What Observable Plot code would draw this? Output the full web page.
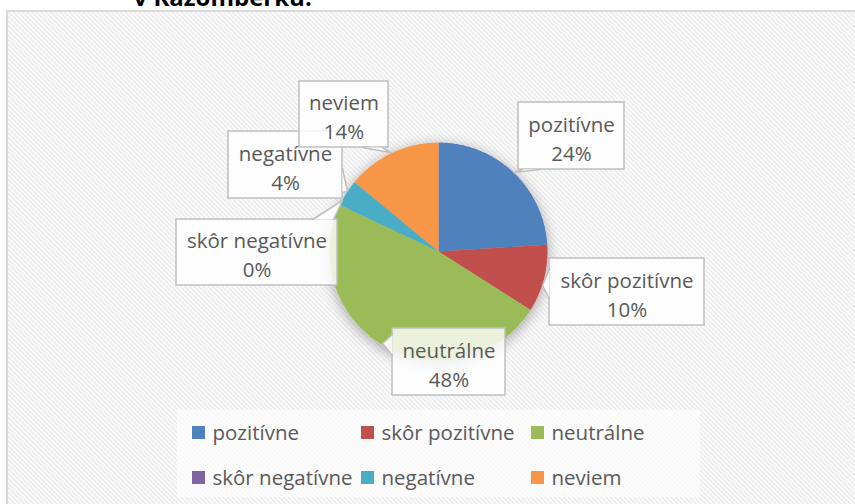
<!DOCTYPE html>
<html>
<head>
<meta charset="utf-8">
<script src="https://cdn.jsdelivr.net/npm/d3@7"></script>
<script src="https://cdn.jsdelivr.net/npm/@observablehq/plot@0.6"></script>
<style>
  html, body { margin: 0; padding: 0; background: #ffffff; }
  #chart { width: 855px; height: 504px; overflow: hidden; }
</style>
</head>
<body>
<div id="chart"></div>
<script>
// ---- data ----
const categories = ["pozitívne", "skôr pozitívne", "neutrálne", "skôr negatívne", "negatívne", "neviem"];
const values = [24, 10, 48, 0, 4, 14];
const colors = ["#4f81bd", "#c0504d", "#9bbb59", "#8064a2", "#4bacc6", "#f79646"];
const titleText = "v Kazomberku.";

// ---- layout ----
const W = 855, H = 504;
const cx = 438, cy = 251, R = 109;
// label boxes [x1, y1, x2, y2] and callout wedges [base1, base2, tip]
const labelBoxes = [
  {box: [518, 102, 624, 169], wedge: [[522, 169], [540, 169], [513, 172]]},
  {box: [549, 258, 704, 325], wedge: [[549, 268], [549, 298], [542, 285]]},
  {box: [392, 328, 505, 395], wedge: [[392, 334], [392, 355], [382, 343]]},
  {box: [176, 219, 337, 285], wedge: [[312, 219], [333, 219], [342, 200]]},
  {box: [228, 131, 342, 198], wedge: [[342, 168], [342, 192], [347, 191]]},
  {box: [299, 81, 388, 147], wedge: [[362, 147], [382, 147], [390, 152]]}
];
const legendCols = [192, 361, 531];
const legendRows = [433, 478];

// ---- pie geometry via d3.pie ----
const arcs = d3.pie().sort(null).value(d => d.value)(categories.map((c, i) => ({cat: c, value: values[i]})));
const slicePts = [];
arcs.forEach(a => {
  if (a.endAngle - a.startAngle <= 0) return;
  const n = Math.max(2, Math.ceil((a.endAngle - a.startAngle) / 0.01));
  slicePts.push({cat: a.data.cat, x: cx, y: cy});
  for (let k = 0; k <= n; k++) {
    const t = a.startAngle + (a.endAngle - a.startAngle) * k / n;
    slicePts.push({cat: a.data.cat, x: cx + R * Math.sin(t), y: cy - R * Math.cos(t)});
  }
  slicePts.push({cat: a.data.cat, x: cx, y: cy});
});

const labels = categories.map((c, i) => ({
  cat: c,
  text: c + "\n" + values[i] + "%",
  x1: labelBoxes[i].box[0], y1: labelBoxes[i].box[1], x2: labelBoxes[i].box[2], y2: labelBoxes[i].box[3]
}));
const wedgeFill = [];
const wedgeEdges = [];
labelBoxes.forEach((lb, i) => {
  const [b1, b2, t] = lb.wedge;
  [b1, t, b2].forEach(p => wedgeFill.push({i, x: p[0], y: p[1]}));
  [b1, t, b2].forEach(p => wedgeEdges.push({i, x: p[0], y: p[1]}));
});

const legendItems = categories.map((c, i) => ({
  cat: c,
  x: legendCols[i % 3],
  y: legendRows[Math.floor(i / 3)]
}));

const textColor = "#595959";
const font = "'Open Sans', Lato, sans-serif";
const fs = 20.5;

const plot = Plot.plot({
  width: W, height: H, margin: 0,
  x: {domain: [0, W], range: [0, W], axis: null},
  y: {domain: [0, H], range: [0, H], axis: null},
  color: {domain: categories, range: colors},
  style: {fontFamily: font, background: "#ffffff", overflow: "visible"},
  marks: [
    // chart area with hatched background
    Plot.rect([{x1: 7, y1: 11, x2: 870, y2: 520}], {x1: "x1", y1: "y1", x2: "x2", y2: "y2", fill: "url(#hatch)", stroke: "#d9d9d9", strokeWidth: 2}),
    // title (cut off at top, as in the reference)
    Plot.text([titleText], {x: 133, y: 5, text: d => d, textAnchor: "start", lineAnchor: "bottom", fontSize: 24, fontWeight: "bold", fill: "#000000"}),
    // pie slices
    Plot.line(slicePts, {x: "x", y: "y", z: "cat", fill: "cat", stroke: "none", curve: "linear"}),
    // label boxes
    Plot.rect(labels, {x1: "x1", y1: "y1", x2: "x2", y2: "y2", fill: "#ffffff", fillOpacity: 0.8, stroke: "#bfbfbf", strokeWidth: 1.5}),
    // callout wedges
    Plot.line(wedgeFill, {x: "x", y: "y", z: "i", fill: "#ffffff", fillOpacity: 0.9, stroke: "none"}),
    Plot.line(wedgeEdges, {x: "x", y: "y", z: "i", stroke: "#bfbfbf", strokeWidth: 1.5, fill: "none"}),
    Plot.text(labels, {x: d => (d.x1 + d.x2) / 2, y: d => (d.y1 + d.y2) / 2 + 1, text: "text", fill: textColor, fontSize: fs, lineHeight: 1.4, textAnchor: "middle"}),
    // legend
    Plot.rect([{x1: 177, y1: 410, x2: 700, y2: 497}], {x1: "x1", y1: "y1", x2: "x2", y2: "y2", fill: "#ffffff", fillOpacity: 0.6}),
    Plot.rect(legendItems, {x1: "x", x2: d => d.x + 13, y1: d => d.y - 7, y2: d => d.y + 6, fill: "cat"}),
    Plot.text(legendItems, {x: d => d.x + 20, y: "y", text: "cat", textAnchor: "start", fill: textColor, fontSize: fs})
  ]
});

// patterns / effects
const svg = d3.select(plot);
const defs = svg.insert("defs", ":first-child");
const pat = defs.append("pattern").attr("id", "hatch").attr("patternUnits", "userSpaceOnUse")
  .attr("width", 3.3).attr("height", 3.3).attr("patternTransform", "rotate(-45)");
pat.append("rect").attr("width", 3.3).attr("height", 3.3).attr("fill", "#fbfbfb");
pat.append("rect").attr("width", 1.5).attr("height", 3.3).attr("fill", "#ececec");
const f = defs.append("filter").attr("id", "pieshadow").attr("x", "-30%").attr("y", "-30%").attr("width", "160%").attr("height", "160%");
f.append("feDropShadow").attr("dx", 0).attr("dy", 3).attr("stdDeviation", 7).attr("flood-color", "#000").attr("flood-opacity", 0.35);
svg.selectAll('g[aria-label="line"]').filter((d, i) => i === 0).attr("filter", "url(#pieshadow)");

document.getElementById("chart").appendChild(plot);
</script>
</body>
</html>
